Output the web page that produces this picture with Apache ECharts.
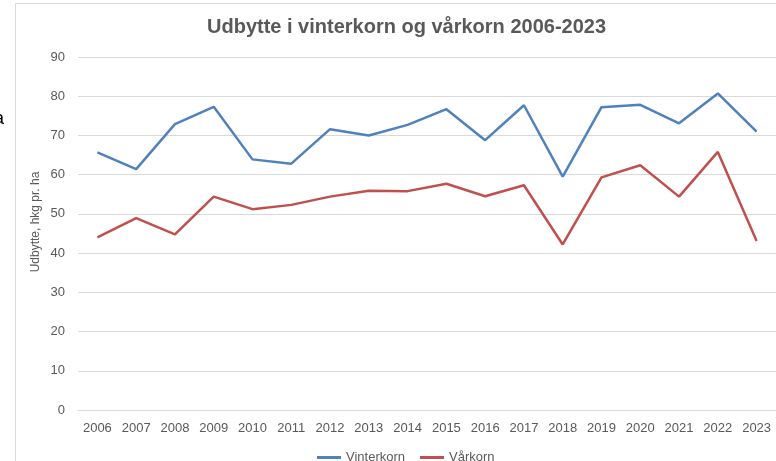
<!DOCTYPE html>
<head>
    <meta charset="utf-8">
    <title>Udbytte</title>
    <style>
        html, body { margin: 0; padding: 0; background: #fff; }
    </style>
</head>
<body>

<div id="main" style="height:461px;width:776px"></div>
<script src="https://cdn.jsdelivr.net/npm/echarts@6/dist/echarts.min.js"></script>

<script type="text/javascript">
// data
var years = ['2006','2007','2008','2009','2010','2011','2012','2013','2014',
             '2015','2016','2017','2018','2019','2020','2021','2022','2023'];
var vinterkorn = [65.7, 61.4, 72.9, 77.3, 63.9, 62.8, 71.6, 70.0, 72.7,
                  76.7, 68.8, 77.7, 59.5, 77.2, 77.8, 73.1, 80.7, 71.0];
var vaarkorn = [44.0, 48.9, 44.8, 54.4, 51.2, 52.3, 54.4, 55.9, 55.8,
                57.7, 54.5, 57.3, 42.2, 59.3, 62.4, 54.4, 65.8, 43.1];

var txt = '#595959';
var font = 'Liberation Sans';

var myChart = echarts.init(document.getElementById('main'));
var option = {
    animation: false,
    backgroundColor: '#fff',
    title: {
        text: 'Udbytte i vinterkorn og vårkorn 2006-2023',
        left: 202,
        top: 12,
        textStyle: { color: txt, fontFamily: font, fontSize: 20, fontWeight: 'bold' }
    },
    legend: {
        top: 446,
        left: 312,
        itemWidth: 24,
        itemHeight: 3,
        itemGap: 15,
        icon: 'rect',
        textStyle: { color: txt, fontFamily: font, fontSize: 13 },
        data: ['Vinterkorn', 'Vårkorn']
    },
    grid: { left: 78, top: 57, width: 703, bottom: 51, containLabel: false },
    xAxis: {
        type: 'category',
        data: years,
        boundaryGap: true,
        axisLine: { lineStyle: { color: '#d9d9d9' } },
        axisTick: { alignWithLabel: true, length: 5, lineStyle: { color: '#d9d9d9' } },
        axisLabel: { color: txt, fontFamily: font, fontSize: 13, margin: 12 }
    },
    yAxis: {
        type: 'value',
        min: 0,
        max: 90,
        interval: 10,
        axisLine: { show: false },
        axisTick: { show: false },
        axisLabel: { color: txt, fontFamily: font, fontSize: 13, margin: 13 },
        splitLine: { lineStyle: { color: '#d9d9d9', width: 1 } }
    },
    series: [
        {
            name: 'Vinterkorn', type: 'line', data: vinterkorn,
            symbol: 'none', color: '#4f81bd',
            lineStyle: { width: 2.5, color: '#4f81bd' }
        },
        {
            name: 'Vårkorn', type: 'line', data: vaarkorn,
            symbol: 'none', color: '#c0504d',
            lineStyle: { width: 2.5, color: '#c0504d' }
        }
    ],
    graphic: [
        { type: 'rect', shape: { x: 15.5, y: 3.5, width: 800, height: 500 },
          style: { fill: 'none', stroke: '#d9d9d9', lineWidth: 1 }, silent: true },
        // axis title, placed like the original (a bit above the plot centre)
        { type: 'text', x: 36, y: 222, rotation: Math.PI / 2,
          style: { text: 'Udbytte, hkg pr. ha', fill: txt, font: '12px Liberation Sans',
                   align: 'center', verticalAlign: 'middle' } },
        { type: 'text', left: -6, top: 110,
          style: { text: 'a', fill: '#000', font: '18px Liberation Sans' } }
    ]
};
myChart.setOption(option);
</script>
</body>
